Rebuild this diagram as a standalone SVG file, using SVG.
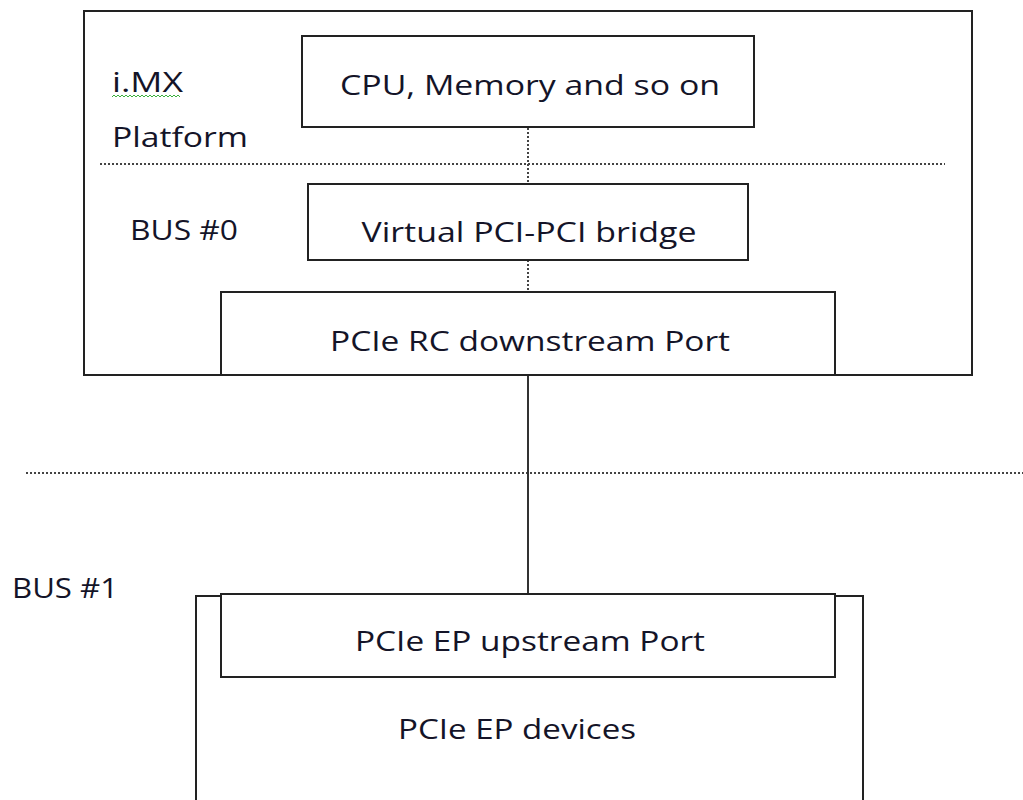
<svg xmlns="http://www.w3.org/2000/svg" width="1023" height="800" viewBox="0 0 1023 800">
<style>
.box{fill:none;stroke:#222;stroke-width:2}
.wbox{fill:#fff;stroke:#222;stroke-width:2}
.dot{stroke:#444;stroke-width:2;stroke-dasharray:2 2;fill:none}
.solid{stroke:#333;stroke-width:2;fill:none}
text{font-family:"Open Sans","Noto Sans",sans-serif;font-size:28px;fill:#141428}
.c{text-anchor:middle}
</style>
<rect width="1023" height="800" fill="#fff"/>
<g id="platform">
<rect class="box" x="84" y="11" width="888" height="364"/>
<text x="112" y="92" textLength="71" lengthAdjust="spacingAndGlyphs">i.MX</text>
<path d="M112,97 l2,-2 l2,2 l2,-2 l2,2 l2,-2 l2,2 l2,-2 l2,2 l2,-2 l2,2 l2,-2 l2,2 l2,-2 l2,2 l2,-2 l2,2 l2,-2 l2,2 l2,-2 l2,2 l2,-2 l2,2 l2,-2 l2,2 l2,-2 l2,2 l2,-2 l2,2 l2,-2 l2,2 l2,-2 l2,2 l2,-2 l2,2" fill="none" stroke="#3bb03b" stroke-width="1"/>
<text x="112" y="147" textLength="136" lengthAdjust="spacingAndGlyphs">Platform</text>
<text x="130" y="240" textLength="108" lengthAdjust="spacingAndGlyphs">BUS #0</text>
</g>
<g id="connectors">
<line class="dot" x1="100" y1="164" x2="945" y2="164"/>
<line class="dot" x1="26" y1="473" x2="1023" y2="473"/>
<line class="dot" x1="528" y1="128" x2="528" y2="184"/>
<line class="dot" x1="528" y1="260" x2="528" y2="292"/>
<line class="solid" x1="528" y1="375" x2="528" y2="594"/>
</g>
<g id="cpu">
<rect class="box" x="302" y="36" width="452" height="91"/>
<text class="c" x="530" y="95" textLength="380" lengthAdjust="spacingAndGlyphs">CPU, Memory and so on</text>
</g>
<g id="bridge">
<rect class="box" x="308" y="184" width="440" height="76"/>
<text class="c" x="529" y="242" textLength="335" lengthAdjust="spacingAndGlyphs">Virtual PCI-PCI bridge</text>
</g>
<g id="rc">
<rect class="box" x="221" y="292" width="614" height="83"/>
<text class="c" x="530" y="351" textLength="400" lengthAdjust="spacingAndGlyphs">PCIe RC downstream Port</text>
</g>
<g id="bus1">
<text x="12" y="598" textLength="106" lengthAdjust="spacingAndGlyphs">BUS #1</text>
</g>
<g id="epdevices">
<path class="box" d="M196,802 V596 H863 V802"/>
<text class="c" x="517" y="739" textLength="238" lengthAdjust="spacingAndGlyphs">PCIe EP devices</text>
</g>
<g id="epport">
<rect class="wbox" x="221" y="594" width="614" height="83"/>
<text class="c" x="530" y="651" textLength="350" lengthAdjust="spacingAndGlyphs">PCIe EP upstream Port</text>
</g>
</svg>
